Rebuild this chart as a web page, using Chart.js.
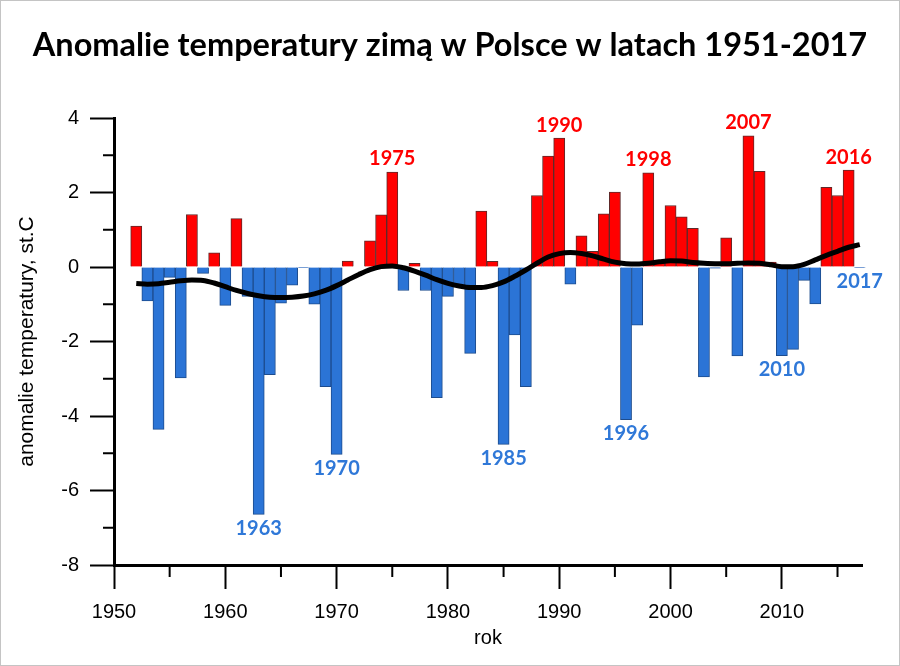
<!DOCTYPE html>
<html>
<head>
<meta charset="utf-8">
<script src="https://cdn.jsdelivr.net/npm/chart.js@4.4.1/dist/chart.umd.min.js"></script>
<style>
  html, body { margin: 0; padding: 0; background: #fff; }
  #wrap { width: 900px; height: 666px; position: relative; }
</style>
</head>
<body>
<div id="wrap"><canvas id="chart" width="900" height="666"></canvas></div>
<script>
// zima oznaczona rokiem stycznia (1952 = zima 1951/52)
const years = [
    1952, 1953, 1954, 1955, 1956, 1957, 1958, 1959, 1960, 1961,
    1962, 1963, 1964, 1965, 1966, 1967, 1968, 1969, 1970, 1971,
    1972, 1973, 1974, 1975, 1976, 1977, 1978, 1979, 1980, 1981,
    1982, 1983, 1984, 1985, 1986, 1987, 1988, 1989, 1990, 1991,
    1992, 1993, 1994, 1995, 1996, 1997, 1998, 1999, 2000, 2001,
    2002, 2003, 2004, 2005, 2006, 2007, 2008, 2009, 2010, 2011,
    2012, 2013, 2014, 2015, 2016, 2017
];
const anomaly = [
    1.10, -0.91, -4.36, -0.28, -2.98, 1.41, -0.17, 0.38, -1.03, 1.30,
    -0.79, -6.64, -2.89, -0.97, -0.49, -0.02, -1.00, -3.21, -5.03, 0.16,
    0.00, 0.70, 1.40, 2.55, -0.63, 0.10, -0.63, -3.51, -0.79, -0.50,
    -2.32, 1.50, 0.15, -4.76, -1.82, -3.21, 1.92, 2.98, 3.46, -0.46,
    0.84, 0.42, 1.43, 2.01, -4.10, -1.56, 2.53, 0.10, 1.65, 1.35,
    1.04, -2.95, -0.03, 0.78, -2.39, 3.52, 2.57, 0.13, -2.38, -2.21,
    -0.36, -0.99, 2.14, 1.92, 2.60, -0.02
];
// wygladzona linia trendu
const trend = [
    -0.44, -0.46, -0.45, -0.41, -0.37, -0.35, -0.36, -0.43, -0.53, -0.63,
    -0.71, -0.77, -0.81, -0.82, -0.81, -0.78, -0.72, -0.63, -0.50, -0.35,
    -0.20, -0.07, 0.01, 0.03, -0.02, -0.11, -0.22, -0.34, -0.44, -0.51,
    -0.55, -0.55, -0.50, -0.40, -0.25, -0.08, 0.10, 0.27, 0.36, 0.39,
    0.36, 0.30, 0.21, 0.13, 0.09, 0.08, 0.10, 0.14, 0.17, 0.16,
    0.12, 0.10, 0.09, 0.09, 0.10, 0.11, 0.10, 0.06, 0.01, 0.01,
    0.07, 0.19, 0.31, 0.42, 0.53, 0.60
];
const labeledYears = [1963, 1970, 1975, 1985, 1990, 1996, 1998, 2007, 2010, 2016, 2017];

const RED = "#ff0000";
const RED_EDGE = "#5e2a2a";
const BLUE = "#2b74d6";
const BLUE_EDGE = "#1d4c8e";
const LABEL_BLUE = "#2f78d8";
const AXIS_FONT = { family: "Liberation Sans, Arial, sans-serif", size: 20 };

const decor = {
    id: "decor",
    afterDraw(chart) {
        const ctx = chart.ctx;
        const xs = chart.scales.x;
        const ys = chart.scales.y;
        const area = chart.chartArea;
        ctx.save();

        // krotkie kreski co 5 lat i co 1 stopien
        ctx.strokeStyle = "#000";
        ctx.lineWidth = 2;
        ctx.beginPath();
        for (let v = 1955; v <= 2015; v += 10) {
            const px = xs.getPixelForValue(v);
            ctx.moveTo(px, area.bottom);
            ctx.lineTo(px, area.bottom + 12);
        }
        for (let v = -7; v <= 3; v += 2) {
            const py = ys.getPixelForValue(v);
            ctx.moveTo(area.left, py);
            ctx.lineTo(area.left - 11, py);
        }
        ctx.stroke();

        // podpisy lat przy wybranych slupkach
        const meta = chart.getDatasetMeta(1);
        ctx.font = "bold 20px Lato, 'Open Sans', sans-serif";
        ctx.textAlign = "center";
        ctx.textBaseline = "middle";
        labeledYears.forEach(yr => {
            const i = years.indexOf(yr);
            const el = meta.data[i];
            if (anomaly[i] >= 0) {
                ctx.fillStyle = RED;
                ctx.fillText(String(yr), el.x, el.y - 13);
            } else {
                ctx.fillStyle = LABEL_BLUE;
                ctx.fillText(String(yr), el.x, el.y + 14);
            }
        });

        // tytul
        ctx.fillStyle = "#000";
        ctx.font = "bold 32.5px Lato, 'Open Sans', sans-serif";
        ctx.textBaseline = "alphabetic";
        ctx.fillText("Anomalie temperatury zimą w Polsce w latach 1951-2017", 450, 56);

        // ramka
        ctx.strokeStyle = "#c4c4c4";
        ctx.lineWidth = 1;
        ctx.strokeRect(0.5, 0.5, 899, 665);
        ctx.restore();
    }
};

new Chart(document.getElementById("chart"), {
    data: {
        datasets: [
            {
                type: "line",
                data: years.map((y, i) => ({ x: y, y: trend[i] })),
                borderColor: "#000",
                borderWidth: 5,
                pointRadius: 0,
                cubicInterpolationMode: "monotone",
                order: 0,
                clip: false,
            },
            {
                type: "bar",
                data: years.map((y, i) => ({ x: y, y: anomaly[i] })),
                backgroundColor: c => (c.raw && c.raw.y >= 0 ? RED : BLUE),
                borderColor: c => (c.raw && c.raw.y >= 0 ? RED_EDGE : BLUE_EDGE),
                borderWidth: 1,
                barPercentage: 1,
                categoryPercentage: 1,
                order: 1,
                clip: false,
            },
        ],
    },
    options: {
        responsive: false,
        animation: false,
        layout: { padding: { top: 118, right: 38, left: 0, bottom: 0 } },
        plugins: {
            legend: { display: false },
            tooltip: { enabled: false },
        },
        scales: {
            x: {
                type: "linear",
                min: 1950,
                max: 2017.2,
                offset: false,
                ticks: {
                    stepSize: 10,
                    includeBounds: false,
                    autoSkip: false,
                    maxRotation: 0,
                    color: "#000",
                    font: AXIS_FONT,
                    padding: 11,
                    callback: v => String(v),
                },
                grid: {
                    offset: false,
                    drawOnChartArea: false,
                    tickLength: 24,
                    tickWidth: 2,
                    tickColor: "#000",
                },
                border: { color: "#000", width: 3 },
                title: {
                    display: true,
                    text: "rok",
                    color: "#000",
                    font: AXIS_FONT,
                    padding: { top: 0, bottom: 16 },
                },
                afterFit: s => { s.height = 101; },
            },
            y: {
                min: -8,
                max: 4,
                ticks: {
                    stepSize: 2,
                    color: "#000",
                    font: AXIS_FONT,
                    padding: 11,
                },
                grid: {
                    drawOnChartArea: false,
                    tickLength: 24,
                    tickWidth: 2,
                    tickColor: "#000",
                },
                border: { color: "#000", width: 3 },
                title: {
                    display: true,
                    text: "anomalie temperatury, st.C",
                    color: "#000",
                    font: { family: AXIS_FONT.family, size: 21 },
                    padding: { top: 15, bottom: 0 },
                },
                afterFit: s => { s.width = 114; },
            },
        },
    },
    plugins: [decor],
});
</script>
</body>
</html>
